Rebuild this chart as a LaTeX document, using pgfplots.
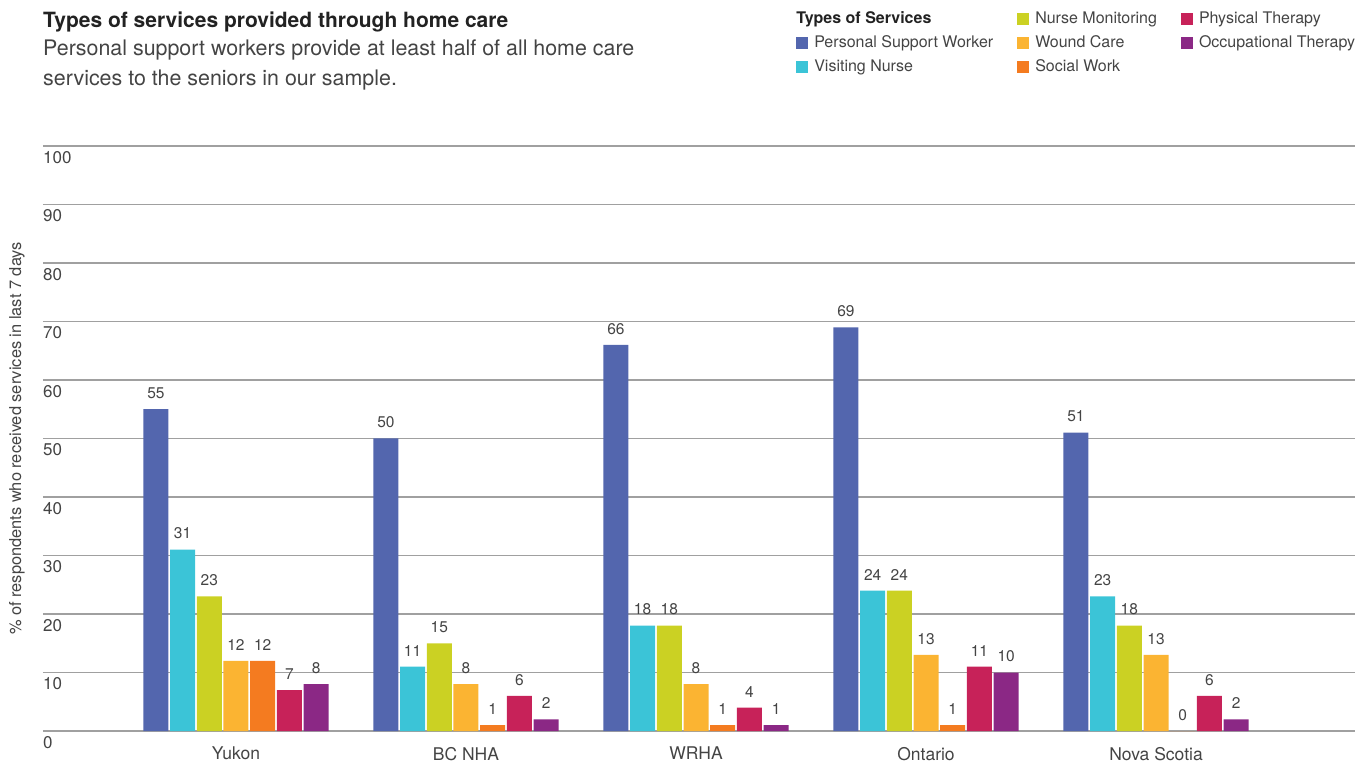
\documentclass[border=0pt]{standalone}
\usepackage{fontspec}
\setmainfont{TeX Gyre Heros}
\usepackage{pgfplots}
\pgfplotsset{compat=1.18}
\definecolor{cPSW}{HTML}{5366AE}
\definecolor{cVN}{HTML}{3BC4D7}
\definecolor{cNM}{HTML}{CBD123}
\definecolor{cWC}{HTML}{FBB432}
\definecolor{cSW}{HTML}{F47B20}
\definecolor{cPT}{HTML}{C72259}
\definecolor{cOT}{HTML}{8B2885}
\definecolor{txt}{HTML}{444444}
\definecolor{ttl}{HTML}{222222}
\definecolor{grd}{HTML}{A0A0A0}
\pgfplotsset{
  sqlegend/.style={legend image code/.code={\fill[##1] (0pt,-6pt) rectangle (12pt,6pt);}},
}
\begin{document}
\begin{tikzpicture}[x=1pt,y=1pt]
\useasboundingbox (0,0) rectangle (1367,763);
\node[anchor=base west, inner sep=0pt, text=ttl, font=\fontsize{21}{25}\selectfont\bfseries] at (43,735) {Types of services provided through home care};
\node[anchor=base west, inner sep=0pt, text=txt, font=\fontsize{21.4}{25}\selectfont] at (43,707) {Personal support workers provide at least half of all home care};
\node[anchor=base west, inner sep=0pt, text=txt, font=\fontsize{21.4}{25}\selectfont] at (43,677) {services to the seniors in our sample.};
\begin{axis}[
  at={(43pt,32pt)}, anchor=south west,
  scale only axis, width=1312pt, height=585pt,
  ymin=0, ymax=100, ytick={0,10,...,100},
  xmin=-0.839, xmax=4.865,
  xtick={0,1,2,3,4}, xticklabels={Yukon,BC NHA,WRHA,Ontario,Nova Scotia},
  ybar=1.7pt, bar width=25pt,
  axis line style={draw=none},
  major tick length=0pt,
  ymajorgrids, grid style={grd, line width=1.2pt},
  /pgf/number format/assume math mode=true,
  yticklabel style={anchor=north west, inner sep=0pt, yshift=-5pt, text=txt, font=\fontsize{17}{20}\selectfont},
  xticklabel style={anchor=north, inner sep=0pt, yshift=-16pt, text=txt, font=\fontsize{17.5}{21}\selectfont},
  ylabel={\% of respondents who received services in last 7 days},
  every axis y label/.style={at={(axis description cs:-0.0198,0.5)}, rotate=90, anchor=center, text=txt, font=\fontsize{16.4}{19}\selectfont},
  nodes near coords,
  every node near coord/.append style={text=txt, font=\fontsize{15.5}{18}\selectfont, yshift=7pt},
  sqlegend,
  transpose legend,
  legend columns=3,
  legend cell align=left,
  legend style={draw=none, fill=none, at={(axis description cs:0.574,1.229)}, anchor=north west,
    inner sep=0pt, font=\fontsize{16}{19}\selectfont, text=txt,
    nodes={inner sep=0pt, text height=11pt, text depth=3pt},
    row sep=10pt,
    /tikz/every even column/.append style={column sep=24pt},
    /tikz/every odd column/.append style={column sep=6pt}},
]
\addlegendimage{empty legend}
\addlegendentry{\hspace*{-18pt}\textcolor{ttl}{\textbf{Types of Services}}}
\addplot[fill=cPSW, draw=none] coordinates {(0,55) (1,50) (2,66) (3,69) (4,51)};
\addlegendentry{Personal Support Worker}
\addplot[fill=cVN, draw=none] coordinates {(0,31) (1,11) (2,18) (3,24) (4,23)};
\addlegendentry{Visiting Nurse}
\addplot[fill=cNM, draw=none] coordinates {(0,23) (1,15) (2,18) (3,24) (4,18)};
\addlegendentry{Nurse Monitoring}
\addplot[fill=cWC, draw=none] coordinates {(0,12) (1,8) (2,8) (3,13) (4,13)};
\addlegendentry{Wound Care}
\addplot[fill=cSW, draw=none] coordinates {(0,12) (1,1) (2,1) (3,1) (4,0)};
\addlegendentry{Social Work}
\addplot[fill=cPT, draw=none] coordinates {(0,7) (1,6) (2,4) (3,11) (4,6)};
\addlegendentry{Physical Therapy}
\addplot[fill=cOT, draw=none] coordinates {(0,8) (1,2) (2,1) (3,10) (4,2)};
\addlegendentry{Occupational Therapy}
\end{axis}
\end{tikzpicture}
\end{document}
